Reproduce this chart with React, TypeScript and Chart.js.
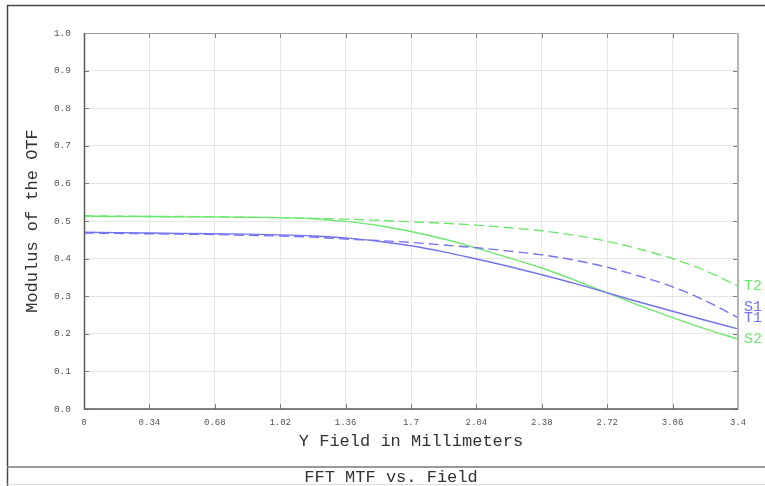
import React, { useEffect, useRef } from "react";
import { Chart, registerables } from "chart.js";

Chart.register(...registerables);

const xValues = [0, 0.17, 0.34, 0.51, 0.68, 0.85, 1.02, 1.19, 1.36, 1.53, 1.7, 1.87, 2.04, 2.21, 2.38, 2.55, 2.72, 2.89, 3.06, 3.23, 3.4];
const t2Values = [0.514, 0.513, 0.512, 0.512, 0.511, 0.51, 0.509, 0.507, 0.505, 0.502, 0.498, 0.494, 0.489, 0.482, 0.474, 0.462, 0.446, 0.425, 0.4, 0.368, 0.327];
const s2Values = [0.513, 0.512, 0.512, 0.511, 0.511, 0.51, 0.509, 0.506, 0.499, 0.488, 0.472, 0.452, 0.428, 0.402, 0.375, 0.343, 0.309, 0.275, 0.243, 0.213, 0.186];
const t1Values = [0.47, 0.469, 0.468, 0.467, 0.466, 0.465, 0.463, 0.46, 0.455, 0.446, 0.434, 0.418, 0.399, 0.379, 0.357, 0.334, 0.309, 0.284, 0.26, 0.236, 0.213];
const s1Values = [0.468, 0.467, 0.466, 0.465, 0.464, 0.462, 0.46, 0.457, 0.452, 0.448, 0.443, 0.436, 0.429, 0.42, 0.41, 0.396, 0.377, 0.353, 0.325, 0.288, 0.243];

const xTickLabels = ["0", "0.34", "0.68", "1.02", "1.36", "1.7", "2.04", "2.38", "2.72", "3.06", "3.4"];
const xTickValues = [0, 0.34, 0.68, 1.02, 1.36, 1.7, 2.04, 2.38, 2.72, 3.06, 3.4];
const yTickLabels = ["0.0", "0.1", "0.2", "0.3", "0.4", "0.5", "0.6", "0.7", "0.8", "0.9", "1.0"];

const seriesNames = ["T2", "S1", "T1", "S2"];

const GREEN = "#6fe66f";
const BLUE = "#7474f2";
const MONO = "'Liberation Mono', 'DejaVu Sans Mono', monospace";

const chartTitle = "FFT MTF vs. Field";
const xTitle = "Y Field in Millimeters";
const yTitle = "Modulus of the OTF";

// per-label vertical nudges (px) so end labels don't collide
const labelNudge = [0, -11, -11, 0];

const decorPlugin = {
  id: "decor",
  afterDraw(chart: any) {
    const ctx = chart.ctx as CanvasRenderingContext2D;
    const { left, right, top, bottom } = chart.chartArea;
    const xs = chart.scales.x;
    const ys = chart.scales.y;
    ctx.save();

    // inward tick marks
    ctx.strokeStyle = "#808080";
    ctx.lineWidth = 1;
    ctx.beginPath();
    xTickValues.forEach((v) => {
      const px = Math.round(xs.getPixelForValue(v)) + 0.5;
      ctx.moveTo(px, bottom);
      ctx.lineTo(px, bottom - 5);
      ctx.moveTo(px, top);
      ctx.lineTo(px, top + 5);
    });
    yTickLabels.forEach((l) => {
      const py = Math.round(ys.getPixelForValue(parseFloat(l))) + 0.5;
      ctx.moveTo(left, py);
      ctx.lineTo(left + 5, py);
      ctx.moveTo(right, py);
      ctx.lineTo(right - 5, py);
    });
    ctx.stroke();

    // plot frame
    ctx.lineWidth = 1;
    ctx.strokeStyle = "#a0a0a0";
    ctx.beginPath();
    ctx.moveTo(left, top + 0.5);
    ctx.lineTo(right, top + 0.5);
    ctx.stroke();
    ctx.lineWidth = 2;
    ctx.strokeStyle = "#b4b4b4";
    ctx.beginPath();
    ctx.moveTo(right, top);
    ctx.lineTo(right, bottom);
    ctx.stroke();
    ctx.lineWidth = 1.5;
    ctx.strokeStyle = "#5a5a5a";
    ctx.beginPath();
    ctx.moveTo(left + 0.5, top);
    ctx.lineTo(left + 0.5, bottom);
    ctx.lineTo(right, bottom);
    ctx.stroke();

    // outer frame
    ctx.lineWidth = 1.5;
    ctx.strokeStyle = "#4a4a4a";
    ctx.beginPath();
    ctx.moveTo(chart.width, 5.5);
    ctx.lineTo(7.5, 5.5);
    ctx.lineTo(7.5, chart.height);
    ctx.stroke();
    ctx.lineWidth = 2;
    ctx.strokeStyle = "#9a9a9a";
    ctx.beginPath();
    ctx.moveTo(7.5, 467);
    ctx.lineTo(chart.width, 467);
    ctx.stroke();
    ctx.lineWidth = 1;
    ctx.strokeStyle = "#dddddd";
    ctx.beginPath();
    ctx.moveTo(7.5, 484.5);
    ctx.lineTo(chart.width, 484.5);
    ctx.stroke();

    // titles
    ctx.fillStyle = "#333333";
    ctx.font = `17px ${MONO}`;
    ctx.textAlign = "center";
    ctx.textBaseline = "middle";
    ctx.fillText(xTitle, (left + right) / 2, 441);
    ctx.fillText(chartTitle, 391, 477);
    ctx.save();
    ctx.translate(32, (top + bottom) / 2);
    ctx.rotate(-Math.PI / 2);
    ctx.fillText(yTitle, 0, 0);
    ctx.restore();

    // end labels
    ctx.font = `15px ${MONO}`;
    ctx.textAlign = "left";
    chart.data.datasets.forEach((ds: any, i: number) => {
      const last = ds.data[ds.data.length - 1];
      const py = ys.getPixelForValue(last.y) + labelNudge[i];
      ctx.fillStyle = ds.borderColor;
      ctx.fillText(ds.label, right + 6, py);
    });

    ctx.restore();
  },
};

export default function App() {
  const ref = useRef<HTMLCanvasElement>(null);
  useEffect(() => {
    if (!ref.current) return;
    const mk = (vals: number[]) => vals.map((v, i) => ({ x: xValues[i], y: v }));
    const chart = new Chart(ref.current, {
      type: "line",
      data: {
        datasets: [
          { label: seriesNames[0], data: mk(t2Values), borderColor: GREEN, borderDash: [10, 5], borderWidth: 1.4, pointRadius: 0, cubicInterpolationMode: "monotone" },
          { label: seriesNames[1], data: mk(s1Values), borderColor: BLUE, borderDash: [10, 5], borderWidth: 1.4, pointRadius: 0, cubicInterpolationMode: "monotone" },
          { label: seriesNames[2], data: mk(t1Values), borderColor: BLUE, borderWidth: 1.4, pointRadius: 0, cubicInterpolationMode: "monotone" },
          { label: seriesNames[3], data: mk(s2Values), borderColor: GREEN, borderWidth: 1.4, pointRadius: 0, cubicInterpolationMode: "monotone" },
        ],
      },
      options: {
        animation: false,
        responsive: false,
        layout: { padding: { left: 0, top: 33, right: 27, bottom: 0 } },
        plugins: { legend: { display: false }, tooltip: { enabled: false } },
        scales: {
          x: {
            type: "linear",
            min: 0,
            max: 3.4,
            afterFit: (s: any) => { s.height = 77; },
            afterBuildTicks: (s: any) => { s.ticks = xTickValues.map((v) => ({ value: v })); },
            grid: { color: "#e6e6e6", drawTicks: false, lineWidth: 1 },
            border: { display: false },
            ticks: {
              padding: 8,
              maxRotation: 0,
              autoSkip: false,
              color: "#555555",
              font: { family: MONO, size: 9 },
              callback: (_v: any, i: number) => xTickLabels[i],
            },
          },
          y: {
            type: "linear",
            min: 0,
            max: 1,
            afterFit: (s: any) => { s.width = 84; },
            afterBuildTicks: (s: any) => { s.ticks = yTickLabels.map((l) => ({ value: parseFloat(l) })); },
            grid: { color: "#e6e6e6", drawTicks: false, lineWidth: 1 },
            border: { display: false },
            ticks: {
              padding: 13,
              autoSkip: false,
              color: "#555555",
              font: { family: MONO, size: 9.5 },
              callback: (_v: any, i: number) => yTickLabels[i],
            },
          },
        },
      } as any,
      plugins: [decorPlugin],
    });
    return () => chart.destroy();
  }, []);
  return (
    <div style={{ position: "absolute", left: 0, top: 0, width: 765, height: 486, background: "#fff" }}>
      <canvas ref={ref} width={765} height={486} style={{ display: "block" }} />
    </div>
  );
}
